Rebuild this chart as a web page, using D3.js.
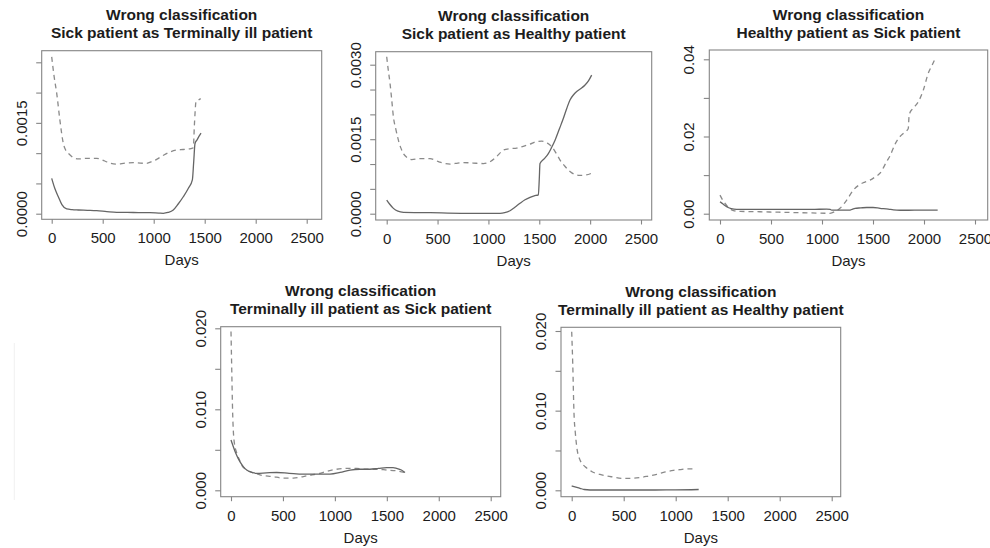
<!DOCTYPE html>
<html>
<head>
<meta charset="utf-8">
<script src="https://cdn.jsdelivr.net/npm/d3@7/dist/d3.min.js"></script>
<style>
  html, body { margin: 0; padding: 0; background: #fff; }
  svg { display: block; font-family: "Liberation Sans", Arial, Helvetica, sans-serif; }
</style>
</head>
<body>
<svg id="chart" width="990" height="548"></svg>
<script>
// ---- data: daily misclassification rates (solid and dashed curves) ----
const titleTop = "Wrong classification";
const panelTitles = [
  "Sick patient as Terminally ill patient",
  "Sick patient as Healthy patient",
  "Healthy patient as Sick patient",
  "Terminally ill patient as Sick patient",
  "Terminally ill patient as Healthy patient"
];
const xTicks = [0, 500, 1000, 1500, 2000, 2500];
const xLabel = "Days";

// panel 1
const p1Ticks = [0, 0.0005, 0.001, 0.0015, 0.002, 0.0025];
const p1Labels = ["0.0000", "", "", "0.0015", "", ""];
const p1SolidDays = [0,30,65,100,147,200,261,350,441,540,637,800,963,1050,1094,1140,1192,1240,1290,1340,1379,1392,1405,1425,1445,1464];
const p1Solid = [0.000584,0.00042,0.00028,0.00015,0.000078,0.000066,0.000061,0.000056,0.00005,0.000035,0.000023,0.00002,0.0000165,0.00001,0.000007,0.00002,0.000061,0.00016,0.00028,0.00042,0.00056,0.00085,0.00116,0.00122,0.00128,0.00133];
const p1DashedDays = [0,25,49,80,114,140,170,220,261,350,441,520,580,637,720,800,870,931,980,1029,1100,1160,1220,1290,1350,1388,1400,1415,1440,1461];
const p1Dashed = [0.00259,0.00225,0.00199,0.00155,0.00116,0.00104,0.000985,0.00092,0.000905,0.000915,0.000914,0.00087,0.00083,0.00082,0.000835,0.000842,0.000835,0.000832,0.00086,0.000898,0.00097,0.00102,0.00105,0.00106,0.00107,0.00109,0.0015,0.00185,0.00188,0.0019];

// panel 2
const p2Ticks = [0, 0.0005, 0.001, 0.0015, 0.002, 0.0025, 0.003];
const p2Labels = ["0.0000", "", "", "0.0015", "", "", "0.0030"];
const p2SolidDays = [0,30,66,110,164,300,426,600,754,950,1114,1160,1212,1260,1311,1360,1409,1450,1491,1500,1507,1550,1589,1620,1655,1700,1737,1770,1802,1835,1868,1910,1950,1985,2015];
const p2Solid = [0.000275,0.00019,0.000107,0.00005,0.000027,0.000022,0.00002,0.000012,0.0000067,0.000005,0.0000067,0.00002,0.00006,0.00013,0.00021,0.00028,0.00033,0.00036,0.00038,0.0007,0.00101,0.00111,0.00121,0.00133,0.00148,0.00172,0.00192,0.00212,0.00229,0.00239,0.00246,0.00252,0.00259,0.00268,0.00279];
const p2DashedDays = [0,15,33,50,66,90,115,140,164,200,246,330,426,520,623,700,754,850,950,1020,1081,1147,1210,1278,1350,1409,1470,1524,1580,1622,1665,1704,1750,1802,1850,1900,1960,2031];
const p2Dashed = [0.00316,0.0029,0.00262,0.00228,0.00195,0.0017,0.00148,0.00132,0.00121,0.00113,0.00109,0.00111,0.00111,0.00104,0.001,0.00102,0.00103,0.00102,0.00101,0.00105,0.00115,0.00128,0.00131,0.00132,0.00136,0.0014,0.00145,0.00146,0.00142,0.00135,0.00122,0.00108,0.00096,0.00085,0.00079,0.00077,0.00078,0.00083];

// panel 3
const p3Ticks = [0, 0.01, 0.02, 0.03, 0.04];
const p3Labels = ["0.00", "", "0.02", "", "0.04"];
const p3SolidDays = [0,30,65,110,163,300,500,719,900,1046,1080,1095,1200,1275,1300,1324,1380,1438,1500,1569,1650,1700,1765,1850,1961,2050,2134];
const p3Solid = [0.0031,0.0025,0.0018,0.0013,0.0011,0.0011,0.0011,0.0011,0.0011,0.0012,0.0011,0.00095,0.00095,0.00095,0.0012,0.0014,0.0015,0.0016,0.0016,0.0014,0.0012,0.001,0.0009,0.0009,0.00095,0.00095,0.00095];
const p3DashedDays = [0,25,49,90,131,200,392,550,719,900,1078,1130,1176,1242,1307,1373,1420,1471,1520,1569,1634,1667,1716,1765,1797,1830,1846,1853,1863,1879,1910,1944,1993,2042,2080,2115];
const p3Dashed = [0.0048,0.0036,0.0027,0.0014,0.0008,0.0006,0.0005,0.0004,0.0003,0.0002,0.0001,0.0006,0.0014,0.0035,0.0061,0.0076,0.0082,0.0087,0.0095,0.0105,0.0135,0.015,0.018,0.02,0.0208,0.0215,0.0221,0.0251,0.0262,0.0269,0.0278,0.029,0.032,0.0364,0.0385,0.0405];

// panel 4
const p4Ticks = [0, 0.005, 0.01, 0.015, 0.02];
const p4Labels = ["0.000", "", "0.010", "", "0.020"];
const p4SolidDays = [0,39,87,120,151,200,247,340,440,560,696,820,953,1050,1146,1240,1338,1420,1499,1560,1595,1640,1675];
const p4Solid = [0.0062,0.0048,0.0035,0.0029,0.0025,0.0022,0.0021,0.00215,0.0022,0.0021,0.002,0.002,0.002,0.0022,0.0025,0.0026,0.0026,0.0027,0.0028,0.0028,0.0027,0.0025,0.0022];
const p4DashedDays = [0,6,16,29,55,80,103,140,183,230,279,400,504,600,696,780,857,940,1017,1110,1210,1300,1402,1500,1595,1675];
const p4Dashed = [0.0196,0.0157,0.0095,0.0062,0.0046,0.0038,0.0031,0.0026,0.0023,0.0021,0.0019,0.0017,0.0015,0.0015,0.0017,0.0019,0.0021,0.0024,0.0026,0.0027,0.0027,0.0026,0.0026,0.0025,0.0024,0.0022];

// panel 5
const p5Ticks = [0, 0.005, 0.01, 0.015, 0.02];
const p5Labels = ["0.000", "", "0.010", "", "0.020"];
const p5SolidDays = [0,40,80,120,176,400,593,800,1000,1221];
const p5Solid = [0.00054,0.0004,0.00025,0.0001,0.00004,0.00004,0.00004,0.00004,0.00005,0.0001];
const p5DashedDays = [0,10,22,35,48,80,110,144,200,272,380,497,570,657,740,817,900,978,1040,1106,1186];
const p5Dashed = [0.0199,0.0159,0.0097,0.0072,0.0055,0.0038,0.0032,0.0028,0.0023,0.002,0.0017,0.0015,0.0015,0.0016,0.0018,0.002,0.0023,0.0025,0.0026,0.0027,0.0027];

// ---- layout of the five plot regions ----
const layout = [
  { box: [41.7, 50.7, 321.7, 219.3], x: [51.7, 306.7], y: [213.7, 62.3] },
  { box: [375.7, 51.7, 651.7, 220], x: [386.7, 641], y: [213.7, 64.7] },
  { box: [709.3, 50, 987.7, 220], x: [720, 975], y: [213.7, 59.3] },
  { box: [220.7, 326.7, 500.7, 496.7], x: [231, 490.7], y: [490.3, 328.3] },
  { box: [561, 327.3, 840.7, 496.7], x: [571.7, 831.7], y: [490.3, 331] }
];

const panels = [
  { ticks: p1Ticks, labels: p1Labels, sd: p1SolidDays, s: p1Solid, dd: p1DashedDays, d: p1Dashed },
  { ticks: p2Ticks, labels: p2Labels, sd: p2SolidDays, s: p2Solid, dd: p2DashedDays, d: p2Dashed },
  { ticks: p3Ticks, labels: p3Labels, sd: p3SolidDays, s: p3Solid, dd: p3DashedDays, d: p3Dashed },
  { ticks: p4Ticks, labels: p4Labels, sd: p4SolidDays, s: p4Solid, dd: p4DashedDays, d: p4Dashed },
  { ticks: p5Ticks, labels: p5Labels, sd: p5SolidDays, s: p5Solid, dd: p5DashedDays, d: p5Dashed }
];

const svg = d3.select("#chart");
const textColor = "#1c1c1c";
const frameColor = "#858585";

// faint scan edge on the left margin
svg.append("line")
  .attr("x1", 14.3).attr("x2", 14.3).attr("y1", 343).attr("y2", 500)
  .attr("stroke", "#f1f1f1").attr("stroke-width", 1);

panels.forEach((p, i) => {
  const L = layout[i];
  const [bl, bt, br, bb] = L.box;
  const x = d3.scaleLinear().domain([0, 2500]).range(L.x);
  const y = d3.scaleLinear().domain([0, p.ticks[p.ticks.length - 1]]).range(L.y);
  const g = svg.append("g");

  // frame
  g.append("rect")
    .attr("x", bl).attr("y", bt).attr("width", br - bl).attr("height", bb - bt)
    .attr("fill", "none").attr("stroke", frameColor).attr("stroke-width", 1.1);

  // x axis
  const xa = g.append("g").attr("transform", `translate(0,${bb})`)
    .call(d3.axisBottom(x).tickValues(xTicks).tickSize(4.5).tickPadding(9).tickFormat(d3.format("d")));
  xa.select(".domain").remove();
  xa.selectAll("line").attr("stroke", frameColor).attr("stroke-width", 1.1);
  xa.selectAll("text").attr("font-size", 15).attr("fill", textColor).attr("font-family", null);

  // y axis with rotated labels
  const ya = g.append("g").attr("transform", `translate(${bl},0)`)
    .call(d3.axisLeft(y).tickValues(p.ticks).tickSize(5.5).tickFormat((d, k) => p.labels[k]));
  ya.select(".domain").remove();
  ya.selectAll("line").attr("stroke", frameColor).attr("stroke-width", 1.1);
  ya.selectAll("text")
    .attr("x", null).attr("dy", null).attr("y", null)
    .attr("text-anchor", "middle")
    .attr("transform", "translate(-15,0) rotate(-90)")
    .attr("font-size", 15).attr("fill", textColor).attr("font-family", null);

  // titles
  const cx = (bl + br) / 2;
  g.append("text").attr("x", cx).attr("y", bt - 30.5)
    .attr("text-anchor", "middle").attr("font-size", 15.5).attr("font-weight", "bold")
    .attr("fill", textColor).text(titleTop);
  g.append("text").attr("x", cx).attr("y", bt - 12.5)
    .attr("text-anchor", "middle").attr("font-size", 15.5).attr("font-weight", "bold")
    .attr("fill", textColor).text(panelTitles[i]);

  // x label
  g.append("text").attr("x", cx).attr("y", bb + 46)
    .attr("text-anchor", "middle").attr("font-size", 15)
    .attr("fill", textColor).text(xLabel);

  const line = d3.line().x(d => x(d[0])).y(d => y(d[1])).curve(d3.curveMonotoneX);

  // dashed curve
  g.append("path")
    .datum(p.dd.map((d, k) => [d, p.d[k]]))
    .attr("d", line).attr("fill", "none")
    .attr("stroke", "#8a8a8a").attr("stroke-width", 1.3)
    .attr("stroke-dasharray", "5,4");

  // solid curve
  g.append("path")
    .datum(p.sd.map((d, k) => [d, p.s[k]]))
    .attr("d", line).attr("fill", "none")
    .attr("stroke", "#656565").attr("stroke-width", 1.3);
});
</script>
</body>
</html>
